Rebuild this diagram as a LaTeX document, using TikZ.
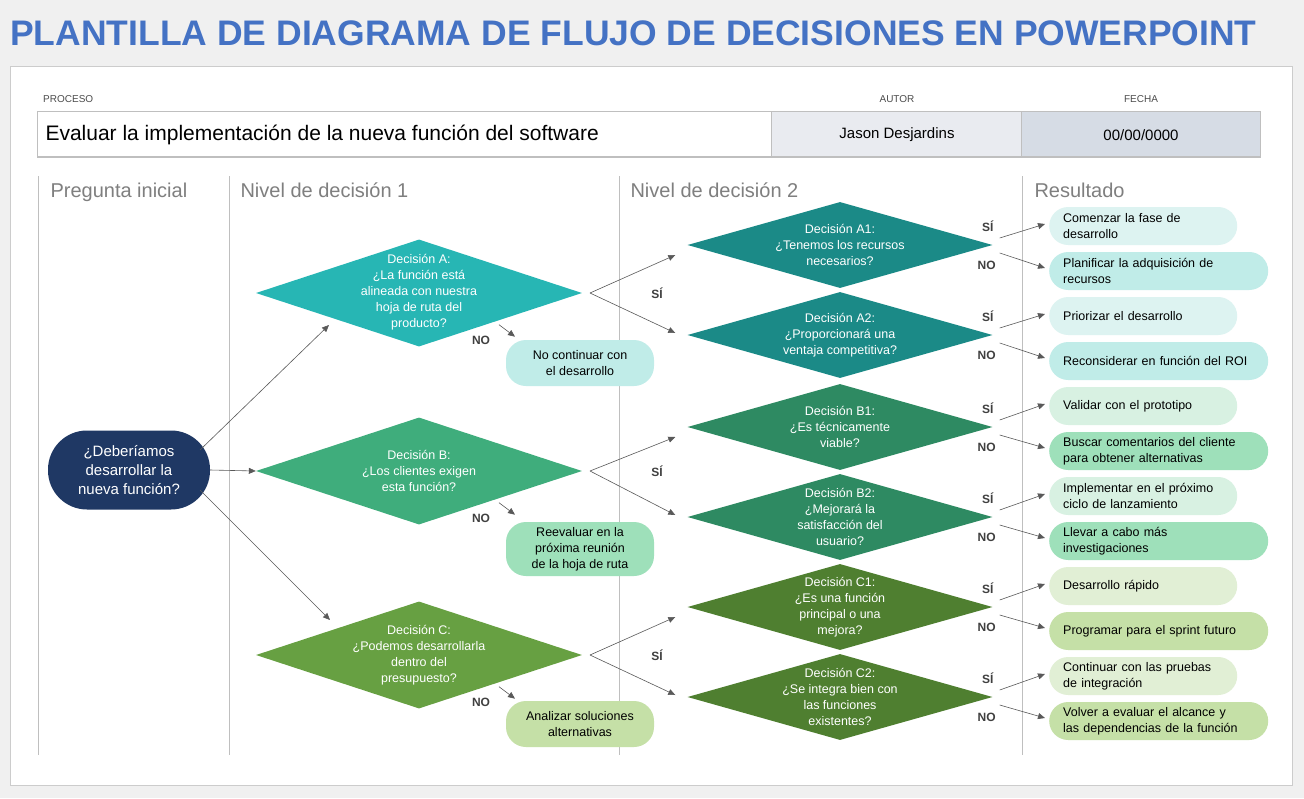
\documentclass[tikz,border=0pt]{standalone}
\usepackage{fontspec}
\setmainfont{Liberation Sans}
\usetikzlibrary{shapes.geometric,arrows.meta,calc}
\definecolor{ttl}{HTML}{4472C4}
\definecolor{navy}{HTML}{1F3864}
\definecolor{dA}{HTML}{27B6B4}\definecolor{dAA}{HTML}{1B8A87}
\definecolor{dB}{HTML}{3FAD7C}\definecolor{dBB}{HTML}{2E8A62}
\definecolor{dC}{HTML}{67A042}\definecolor{dCC}{HTML}{4F7F30}
\definecolor{oA}{HTML}{DDF3F1}\definecolor{oAA}{HTML}{C0ECE8}
\definecolor{oB}{HTML}{D8F1E2}\definecolor{oBB}{HTML}{9EE0BA}
\definecolor{oC}{HTML}{E1EFD5}\definecolor{oCC}{HTML}{C5E0A7}
\definecolor{gl}{HTML}{BFBFBF}
\definecolor{gt}{HTML}{7F7F7F}
\definecolor{cau}{HTML}{E9EBF0}
\definecolor{cfe}{HTML}{D6DCE5}
\tikzset{
 dia/.style={diamond,fill=#1,inner sep=0,minimum width=326pt,minimum height=107pt},
 diab/.style={diamond,fill=#1,inner sep=0,minimum width=305pt,minimum height=86pt},
 dtxt/.style={text=white,align=center,font=\fontsize{12.5}{16}\selectfont},
 obox/.style={rounded corners=19pt,fill=#1,minimum height=38pt,text width=160pt,align=left,inner xsep=14pt,anchor=west,font=\fontsize{12.5}{16}\selectfont},
 nbox/.style={rounded corners=20pt,fill=#1,minimum height=46pt,minimum width=148pt,align=center,font=\fontsize{12.5}{16}\selectfont},
 arr/.style={-{Triangle[length=7pt,width=6pt]},draw=black!65,line width=0.6pt},
 lbl/.style={font=\bfseries\fontsize{12}{14}\selectfont,text=black!75},
 hdr/.style={anchor=base west,text=gt,font=\fontsize{20}{24}\selectfont},
 col/.style={draw=gl,line width=1pt}
}
\begin{document}
\begin{tikzpicture}[x=1pt,y=-1pt]
\fill[black!6] (0,0) rectangle (1304,798);
\useasboundingbox (0,0) rectangle (1304,798);
\node[anchor=base west,text=ttl,font=\bfseries\fontsize{35.5}{40}\selectfont,inner sep=0] (title) at (10,45) {PLANTILLA DE DIAGRAMA DE FLUJO DE DECISIONES EN POWERPOINT};
\draw[draw=black!20,fill=white] (10,66) rectangle (1292,785);
\node[anchor=base west,text=black!70,font=\fontsize{10}{12}\selectfont,inner sep=0] (lp) at (43,102) {PROCESO};
\node[anchor=base,text=black!70,font=\fontsize{10}{12}\selectfont,inner sep=0] (la) at (897,102) {AUTOR};
\node[anchor=base,text=black!70,font=\fontsize{10}{12}\selectfont,inner sep=0] (lf) at (1141,102) {FECHA};
\draw[draw=gl,fill=white] (37,111) rectangle (771,157);
\draw[draw=gl,fill=cau] (771,111) rectangle (1021,157);
\draw[draw=gl,fill=cfe] (1021,111) rectangle (1260,157);
\draw[gl,line width=2.5pt] (37,157) -- (1260,157);
\node[anchor=west,font=\fontsize{21}{25}\selectfont] (proc) at (42,135) {Evaluar la implementación de la nueva función del software};
\node[font=\fontsize{15}{18}\selectfont] (aut) at (897,135) {Jason Desjardins};
\node[font=\fontsize{15}{18}\selectfont] (fec) at (1141,135) {00/00/0000};
\foreach \x in {38,229,619,1022} \draw[col] (\x,176) -- (\x,755);
\node[hdr] (h1) at (47,197) {Pregunta inicial};
\node[hdr] (h2) at (237,197) {Nivel de decisión 1};
\node[hdr] (h3) at (627,197) {Nivel de decisión 2};
\node[hdr] (h4) at (1031,197) {Resultado};
% start
\node[rounded corners=39pt,fill=navy,minimum width=162pt,minimum height=79pt,text=white,align=center,font=\fontsize{15}{19}\selectfont] (s) at (129,470) {¿Deberíamos\\desarrollar la\\nueva función?};
% level 1
\node[dia=dA] (A) at (419,293) {};
\node[dtxt] at (419,292) {Decisión A:\\¿La función está\\alineada con nuestra\\hoja de ruta del\\producto?};
\node[dia=dB] (B) at (419,471) {};
\node[dtxt] at (419,471) {Decisión B:\\¿Los clientes exigen\\esta función?};
\node[dia=dC] (C) at (419,655) {};
\node[dtxt] at (419,655) {Decisión C:\\¿Podemos desarrollarla\\dentro del\\presupuesto?};
\node[nbox=oAA] (nA) at (580,363) {No continuar con\\el desarrollo};
\node[nbox=oBB,minimum height=54pt] (nB) at (580,549) {Reevaluar en la\\próxima reunión\\de la hoja de ruta};
\node[nbox=oCC] (nC) at (580,724) {Analizar soluciones\\alternativas};
% level 2
\foreach \n/\y/\c in {A1/245/dAA,A2/335/dAA,B1/427/dBB,B2/517/dBB,C1/607/dCC,C2/697/dCC}
  \node[diab=\c] (\n) at (840,\y) {};
\node[dtxt] at (840,245) {Decisión A1:\\¿Tenemos los recursos\\necesarios?};
\node[dtxt] at (840,335) {Decisión A2:\\¿Proporcionará una\\ventaja competitiva?};
\node[dtxt] at (840,427) {Decisión B1:\\¿Es técnicamente\\viable?};
\node[dtxt] at (840,517) {Decisión B2:\\¿Mejorará la\\satisfacción del\\usuario?};
\node[dtxt] at (840,607) {Decisión C1:\\¿Es una función\\principal o una\\mejora?};
\node[dtxt] at (840,697) {Decisión C2:\\¿Se integra bien con\\las funciones\\existentes?};
% outcomes
\node[obox=oA] (o1) at (1049,226) {Comenzar la fase de\\desarrollo};
\node[obox=oAA,text width=191pt] (o2) at (1049,271) {Planificar la adquisición de\\recursos};
\node[obox=oA] (o3) at (1049,316) {Priorizar el desarrollo};
\node[obox=oAA,text width=191pt] (o4) at (1049,361) {Reconsiderar en función del ROI};
\node[obox=oB] (o5) at (1049,406) {Validar con el prototipo};
\node[obox=oBB,text width=191pt] (o6) at (1049,451) {Buscar comentarios del cliente\\para obtener alternativas};
\node[obox=oB] (o7) at (1049,496) {Implementar en el próximo\\ciclo de lanzamiento};
\node[obox=oBB,text width=191pt] (o8) at (1049,541) {Llevar a cabo más\\investigaciones};
\node[obox=oC] (o9) at (1049,586) {Desarrollo rápido};
\node[obox=oCC,text width=191pt] (o10) at (1049,631) {Programar para el sprint futuro};
\node[obox=oC] (o11) at (1049,676) {Continuar con las pruebas\\de integración};
\node[obox=oCC,text width=191pt] (o12) at (1049,721) {Volver a evaluar el alcance y\\las dependencias de la función};
% arrows start
\coordinate (sa) at (200,450); \coordinate (ta) at (329,325);
\coordinate (sc) at (200,490); \coordinate (tc) at (330,620);
\draw[arr] (sa) -- (ta);
\draw[arr] (s.east) -- (B.west);
\draw[arr] (sc) -- (tc);
% level1 -> level2
\foreach \L/\y/\u/\d in {A/293/A1/A2,B/471/B1/B2,C/655/C1/C2}{
  \coordinate (\L r) at (590,\y);
  \draw[arr] (\L r) -- ($(\u.west)+(-12,10)$);
  \draw[arr] (\L r) -- ($(\d.west)+(-12,-2)$);
  \node[lbl] at (657,\y) {SÍ};
  \draw[arr] ($(\L.south)+(80,-22)$) -- ($(\L.south)+(96,-10)$);
  \node[lbl] at ($(\L.south)+(62,-6)$) {NO};
}
% level2 -> outcomes
\foreach \n/\a/\b in {A1/o1/o2,A2/o3/o4,B1/o5/o6,B2/o7/o8,C1/o9/o10,C2/o11/o12}{
  \draw[arr] ($(\n.east)+(7,-7)$) -- ($(\a.west)+(-4,-2)$);
  \draw[arr] ($(\n.east)+(7,8)$) -- ($(\b.west)+(-4,-3)$);
  \node[lbl] at ($(\n.east)+(-5,-19)$) {SÍ};
  \node[lbl] at ($(\n.east)+(-6,20)$) {NO};
}
\end{tikzpicture}
\end{document}
